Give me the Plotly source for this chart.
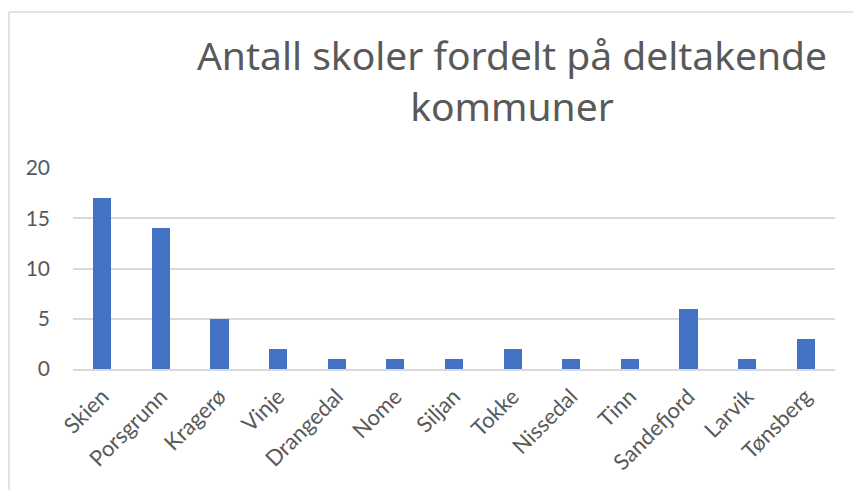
import plotly.graph_objects as go

kommuner = ["Skien", "Porsgrunn", "Kragerø", "Vinje", "Drangedal", "Nome", "Siljan",
            "Tokke", "Nissedal", "Tinn", "Sandefjord", "Larvik", "Tønsberg"]
skoler = [17, 14, 5, 2, 1, 1, 1, 2, 1, 1, 6, 1, 3]
y_ticks = [0, 5, 10, 15, 20]

W, H = 853, 490
L, R, T, B = 73, 18, 168, 121
pw, ph = W - L - R, H - T - B

fig = go.Figure(go.Bar(x=kommuner, y=skoler, marker_color="#4472C4", width=0.31,
                       marker_line_width=0))

grid = "#d9d9d9"
fig.update_layout(
    width=W, height=H,
    margin=dict(l=L, r=R, t=T, b=B),
    paper_bgcolor="white", plot_bgcolor="white",
    showlegend=False,
    title=dict(text="Antall skoler fordelt på deltakende<br>kommuner",
               font=dict(family="Noto Sans", size=39, color="#595959"),
               x=512 / W, xanchor="center", xref="container",
               y=1 - 70 / H, yanchor="top", yref="container"),
    xaxis=dict(type="category", tickangle=-45, showgrid=False, showline=True,
               linecolor=grid, linewidth=2, ticks="",
               tickfont=dict(family="Lato", size=22, color="#595959"),
               ticklabelstandoff=4),
    yaxis=dict(range=[0, 20], tickvals=y_ticks, showgrid=True, gridcolor=grid,
               gridwidth=1.5, zeroline=False, showline=False, ticks="",
               tickfont=dict(family="Lato", size=21, color="#595959"),
               ticklabelstandoff=22),
    bargap=0,
)

# chart border (left and top edges visible)
x_left = (9 - L) / pw
y_top = (H - B - 12) / ph
fig.add_shape(type="line", xref="paper", yref="paper", x0=x_left, x1=x_left,
              y0=-1, y1=y_top, line=dict(color=grid, width=1.5))
fig.add_shape(type="line", xref="paper", yref="paper", x0=x_left, x1=1.2,
              y0=y_top, y1=y_top, line=dict(color=grid, width=1.5))

fig.write_html("out.html", config={"displayModeBar": False},
               post_script="document.body.style.margin='0';")
